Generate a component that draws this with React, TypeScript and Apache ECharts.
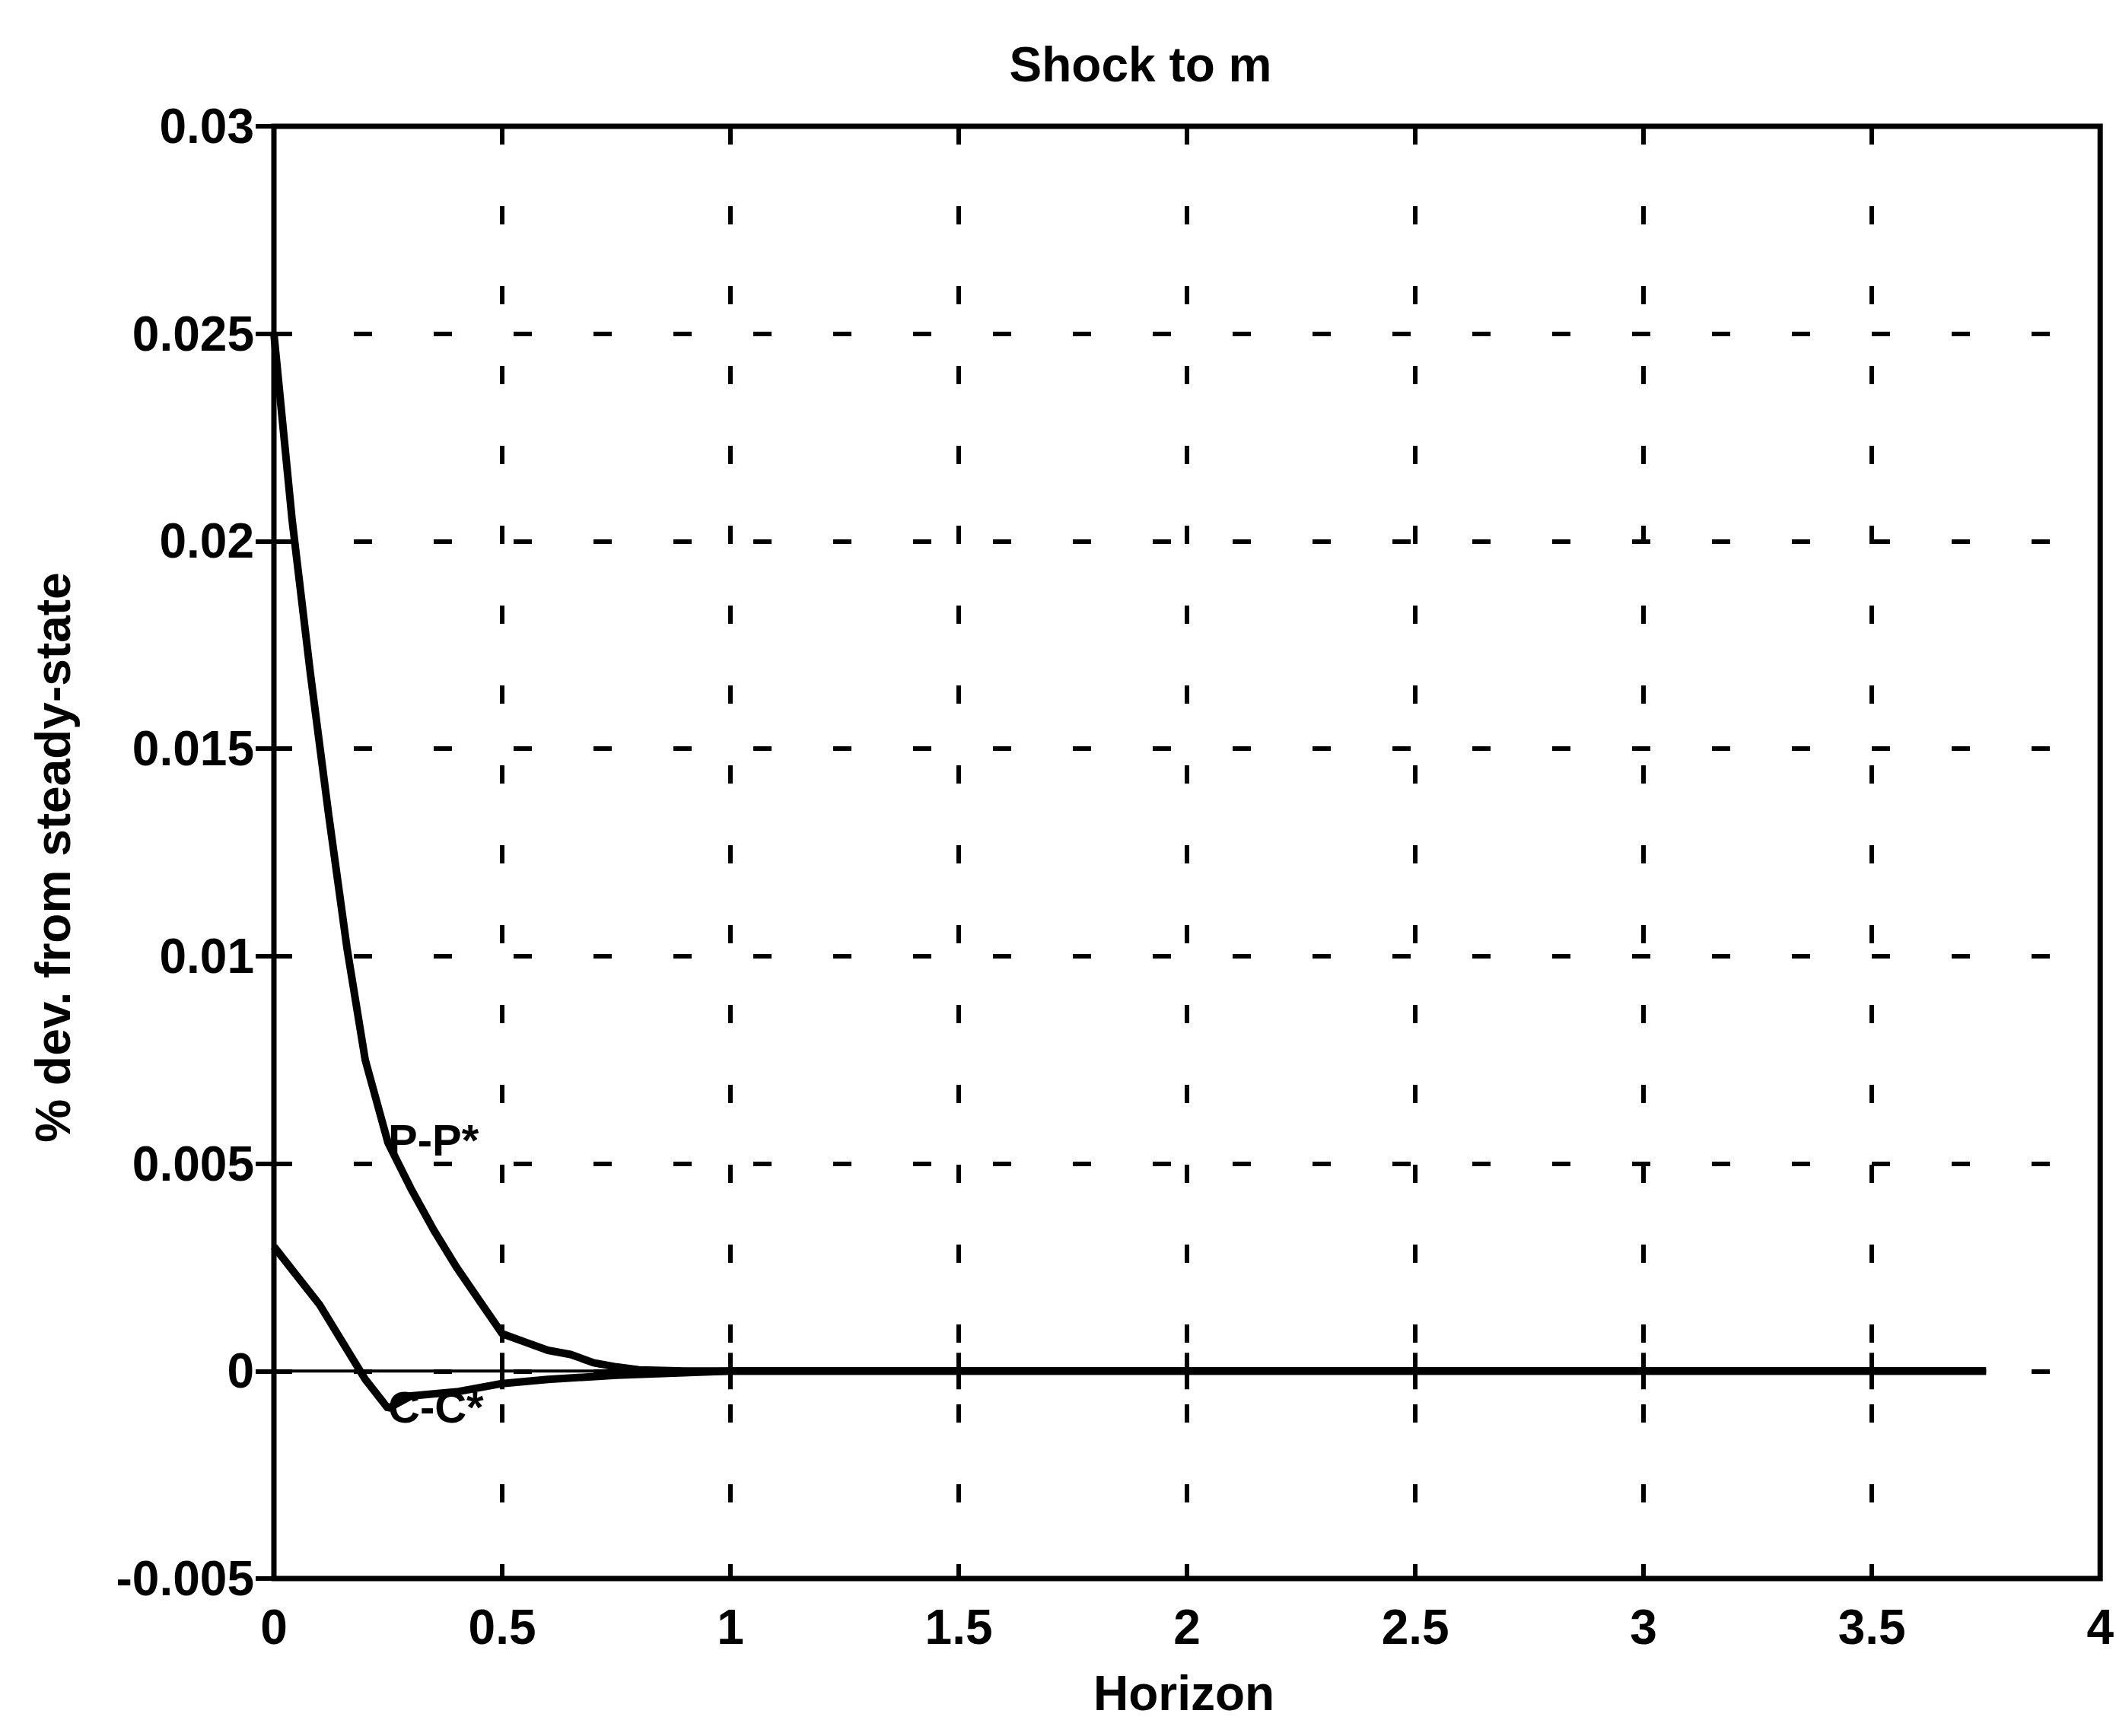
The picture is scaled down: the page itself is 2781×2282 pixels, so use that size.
import React, { useEffect, useRef } from "react";
import * as echarts from "echarts";

// Impulse responses to a shock to m (horizon in years)
const ppTimes = [0, 0.04, 0.08, 0.12, 0.16, 0.2, 0.25, 0.3, 0.35, 0.4, 0.45, 0.5, 0.55, 0.6, 0.65, 0.7, 0.75, 0.8, 0.9, 1, 1.5, 2, 2.5, 3, 3.5, 3.75];
const ppValues = [0.025, 0.0205, 0.0168, 0.0134, 0.0102, 0.0075, 0.0055, 0.0044, 0.0034, 0.0025, 0.0017, 0.0009, 0.0007, 0.0005, 0.0004, 0.0002, 0.0001, 0.00003, 0, 0, 0, 0, 0, 0, 0, 0];

const ccTimes = [0, 0.05, 0.1, 0.15, 0.2, 0.25, 0.3, 0.4, 0.5, 0.6, 0.75, 1, 1.5, 2, 2.5, 3, 3.5, 3.75];
const ccValues = [0.003, 0.0023, 0.0016, 0.0007, -0.0002, -0.0009, -0.0006, -0.0005, -0.0003, -0.0002, -0.0001, 0, 0, 0, 0, 0, 0, 0];

const zeroTimes = [0, 3.75];
const zeroValues = [0, 0];

const xTickLabels = ["0", "0.5", "1", "1.5", "2", "2.5", "3", "3.5", "4"];
const yTickLabels = ["-0.005", "0", "0.005", "0.01", "0.015", "0.02", "0.025", "0.03"];

const ppLabel = "P-P*";
const ppLabelAt = 0.25;
const ccLabel = "C-C*";
const ccLabelAt = 0.25;

const titleText = "Shock to m";
const xName = "Horizon";
const yName = "% dev. from steady-state";

const FONT = "'Liberation Sans', Arial, Helvetica, sans-serif";

export default function App() {
  const ref = useRef<HTMLDivElement>(null);

  useEffect(() => {
    if (!ref.current) return;
    const chart = echarts.init(ref.current, undefined, { renderer: "svg" });

    const xMin = 0, xMax = 4, xStep = 0.5;
    const yMin = -0.005, yMax = 0.03, yStep = 0.005;

    const xFmt = (v: number) => xTickLabels[Math.round((v - xMin) / xStep)] ?? "";
    const yFmt = (v: number) => yTickLabels[Math.round((v - yMin) / yStep)] ?? "";

    const tick = { show: true, inside: true, length: 24, lineStyle: { color: "#000", width: 6 } };
    const grid = { show: true, lineStyle: { color: "#000", width: 6, type: [24, 81] } };
    const tickFont = { fontSize: 64, fontWeight: "bold", color: "#000", fontFamily: FONT };
    const seriesLabel = (text: string, dy: number) => ({
      show: true,
      position: "right",
      distance: 0,
      offset: [0, dy],
      formatter: text,
      fontSize: 58,
      fontWeight: "bold",
      color: "#000",
      fontFamily: FONT,
    });

    const ppData = ppTimes.map((t, i) =>
      t === ppLabelAt ? { value: [t, ppValues[i]], label: seriesLabel(ppLabel, -4) } : [t, ppValues[i]]
    );
    const ccData = ccTimes.map((t, i) =>
      t === ccLabelAt ? { value: [t, ccValues[i]], label: seriesLabel(ccLabel, -2) } : [t, ccValues[i]]
    );

    const line = (name: string, data: any[], width: number) => ({
      name,
      type: "line",
      data,
      symbol: "circle",
      symbolSize: 0,
      showSymbol: true,
      showAllSymbol: true,
      silent: true,
      lineStyle: { color: "#000", width },
      itemStyle: { color: "#000" },
      z: 3,
    });

    chart.setOption({
      animation: false,
      backgroundColor: "#fff",
      grid: {
        left: 360,
        top: 166,
        width: 2404,
        height: 1909,
        show: true,
        borderColor: "#000",
        borderWidth: 7,
        backgroundColor: "transparent",
      },
      xAxis: [
        {
          type: "value", min: xMin, max: xMax, interval: xStep, position: "bottom",
          axisLine: { show: false }, axisTick: tick,
          axisLabel: { ...tickFont, margin: 32, formatter: xFmt },
          splitLine: grid,
        },
        {
          type: "value", min: xMin, max: xMax, interval: xStep, position: "top",
          axisLine: { show: false }, axisTick: tick, axisLabel: { show: false }, splitLine: { show: false },
        },
      ],
      yAxis: [
        {
          type: "value", min: yMin, max: yMax, interval: yStep, position: "left",
          axisLine: { show: false }, axisTick: tick,
          axisLabel: { ...tickFont, margin: 26, formatter: yFmt },
          splitLine: grid,
        },
        {
          type: "value", min: yMin, max: yMax, interval: yStep, position: "right",
          axisLine: { show: false }, axisTick: tick, axisLabel: { show: false }, splitLine: { show: false },
        },
      ],
      graphic: [
        {
          type: "text",
          style: { text: titleText, x: 1499, y: 85, textAlign: "center", textVerticalAlign: "middle", fontSize: 64, fontWeight: "bold", fill: "#000", fontFamily: FONT },
        },
        {
          type: "text",
          style: { text: xName, x: 1556, y: 2226, textAlign: "center", textVerticalAlign: "middle", fontSize: 64, fontWeight: "bold", fill: "#000", fontFamily: FONT },
        },
        {
          type: "text",
          x: 70,
          y: 1127,
          rotation: Math.PI / 2,
          style: { text: yName, x: 0, y: 0, textAlign: "center", textVerticalAlign: "middle", fontSize: 64, fontWeight: "bold", fill: "#000", fontFamily: FONT },
        },
      ],
      series: [
        line("zero", zeroTimes.map((t, i) => [t, zeroValues[i]]), 4),
        line("C-C*", ccData, 10),
        line("P-P*", ppData, 10),
      ],
    });

    return () => chart.dispose();
  }, []);

  return (
    <div
      ref={ref}
      style={{ position: "fixed", left: 0, top: 0, width: 2781, height: 2282, background: "#fff" }}
    />
  );
}
